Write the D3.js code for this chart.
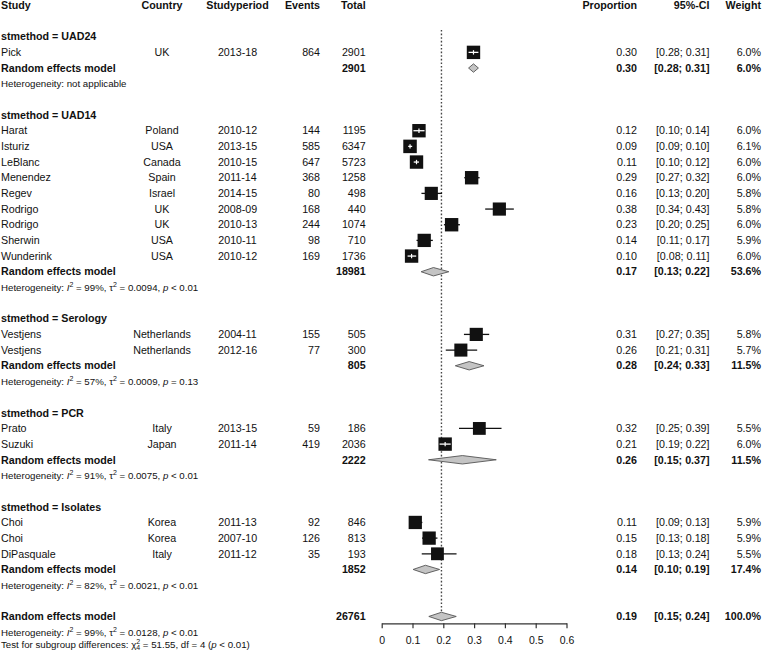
<!DOCTYPE html>
<html lang="en">
<head>
<meta charset="utf-8">
<title>Forest plot by stmethod</title>
<style>
  body { margin: 0; background: #fff; }
  text { font-family: Arial, "Liberation Sans", sans-serif; fill: #111; }
  .cell { font-size: 10.7px; }
  .bold { font-weight: bold; }
  .het { font-size: 9.7px; }
  .tick text { font-size: 10.5px; }
</style>
</head>
<body>
<div id="forest"></div>
<script src="https://cdn.jsdelivr.net/npm/d3@7"></script>
<script>
// ---- data ----
var groups = ["UAD24", "UAD14", "Serology", "PCR", "Isolates"];

var studyGroup   = [0, 1, 1, 1, 1, 1, 1, 1, 1, 1, 2, 2, 3, 3, 4, 4, 4];
var studyNames   = ["Pick", "Harat", "Isturiz", "LeBlanc", "Menendez", "Regev", "Rodrigo", "Rodrigo", "Sherwin", "Wunderink",
                    "Vestjens", "Vestjens", "Prato", "Suzuki", "Choi", "Choi", "DiPasquale"];
var studyCountry = ["UK", "Poland", "USA", "Canada", "Spain", "Israel", "UK", "UK", "USA", "USA",
                    "Netherlands", "Netherlands", "Italy", "Japan", "Korea", "Korea", "Italy"];
var studyPeriod  = ["2013-18", "2010-12", "2013-15", "2010-15", "2011-14", "2014-15", "2008-09", "2010-13", "2010-11", "2010-12",
                    "2004-11", "2012-16", "2013-15", "2011-14", "2011-13", "2007-10", "2011-12"];
var studyEvents  = [864, 144, 585, 647, 368, 80, 168, 244, 98, 169, 155, 77, 59, 419, 92, 126, 35];
var studyTotal   = [2901, 1195, 6347, 5723, 1258, 498, 440, 1074, 710, 1736, 505, 300, 186, 2036, 846, 813, 193];
var studyProp    = [0.298, 0.121, 0.092, 0.113, 0.292, 0.161, 0.382, 0.227, 0.138, 0.097, 0.307, 0.257, 0.317, 0.206, 0.109, 0.154, 0.181];
var studyLower   = [0.282, 0.103, 0.086, 0.104, 0.268, 0.129, 0.336, 0.202, 0.113, 0.084, 0.267, 0.208, 0.251, 0.188, 0.089, 0.131, 0.130];
var studyUpper   = [0.314, 0.139, 0.099, 0.121, 0.318, 0.196, 0.429, 0.254, 0.166, 0.112, 0.349, 0.310, 0.389, 0.224, 0.132, 0.181, 0.243];
var studyWeight  = [6.0, 6.0, 6.1, 6.0, 6.0, 5.8, 5.8, 6.0, 5.9, 6.0, 5.8, 5.7, 5.5, 6.0, 5.9, 5.9, 5.5];

var poolTotal  = [2901, 18981, 805, 2222, 1852];
var poolProp   = [0.298, 0.168, 0.284, 0.262, 0.142];
var poolLower  = [0.282, 0.128, 0.239, 0.152, 0.102];
var poolUpper  = [0.314, 0.218, 0.332, 0.372, 0.188];
var poolWeight = [6.0, 53.6, 11.5, 11.5, 17.4];
var hetI2      = [null, "99%", "57%", "91%", "82%"];
var hetTau2    = [null, "0.0094", "0.0009", "0.0075", "0.0021"];
var hetP       = [null, "< 0.01", "= 0.13", "< 0.01", "< 0.01"];

var overallTotal = 26761, overallProp = 0.194, overallLower = 0.153, overallUpper = 0.242, overallWeight = 100.0;
var overallI2 = "99%", overallTau2 = "0.0128", overallP = "< 0.01";
var testChi = "51.55", testDf = 4, testP = "< 0.01";

var xTicks = [0, 0.1, 0.2, 0.3, 0.4, 0.5, 0.6];

// ---- layout ----
var W = 762, H = 651;
var svg = d3.select("#forest").append("svg").attr("width", W).attr("height", H);

var x = d3.scaleLinear().domain([0, 0.6]).range([381.7, 566.5]);
var y = d3.scaleLinear().domain([0, 39]).range([36.7, 647.8]);

var col = {study: 1, country: 162, period: 237.5, events: 320, total: 365.7, prop: 637, ci: 709.5, weight: 761};

// build row list
var rows = [];
var r = 0;
groups.forEach(function(g, gi) {
  rows.push({type: "label", row: r++, text: "stmethod = " + g});
  studyNames.forEach(function(n, i) {
    if (studyGroup[i] !== gi) return;
    rows.push({type: "study", row: r++, name: n, country: studyCountry[i], period: studyPeriod[i],
               events: studyEvents[i], total: studyTotal[i], est: studyProp[i], lo: studyLower[i],
               hi: studyUpper[i], w: studyWeight[i]});
  });
  rows.push({type: "pool", row: r++, total: poolTotal[gi], est: poolProp[gi], lo: poolLower[gi], hi: poolUpper[gi], w: poolWeight[gi]});
  rows.push({type: "het", row: r++, i2: hetI2[gi], tau2: hetTau2[gi], p: hetP[gi]});
  r++;
});
rows.push({type: "pool", row: r++, total: overallTotal, est: overallProp, lo: overallLower, hi: overallUpper, w: overallWeight});
rows.push({type: "het", row: r++, i2: overallI2, tau2: overallTau2, p: overallP});
rows.push({type: "test", row: r++});
var lastPoolRow = r - 3;

function txt(cls, xx, yy, anchor, s) {
  return svg.append("text").attr("class", cls).attr("x", xx).attr("y", yy)
    .attr("dy", "0.35em").attr("text-anchor", anchor).text(s);
}
function ci(lo, hi) { return "[" + lo.toFixed(2) + "; " + hi.toFixed(2) + "]"; }

// header
var hy = y(-2);
txt("cell bold", col.study, hy, "start", "Study");
txt("cell bold", col.country, hy, "middle", "Country");
txt("cell bold", col.period, hy, "middle", "Studyperiod");
txt("cell bold", col.events, hy, "end", "Events");
txt("cell bold", col.total, hy, "end", "Total");
txt("cell bold", col.prop, hy, "end", "Proportion");
txt("cell bold", col.ci, hy, "end", "95%-CI");
txt("cell bold", col.weight, hy, "end", "Weight");

// reference line at overall estimate
svg.append("line")
  .attr("x1", x(overallProp)).attr("x2", x(overallProp))
  .attr("y1", 30).attr("y2", y(lastPoolRow) - 4)
  .attr("stroke", "#444").attr("stroke-width", 1.4).attr("stroke-dasharray", "1.6,2");

rows.forEach(function(d) {
  var yy = y(d.row);
  if (d.type === "label") {
    txt("cell bold", col.study, yy, "start", d.text);
  } else if (d.type === "study") {
    txt("cell", col.study, yy, "start", d.name);
    txt("cell", col.country, yy, "middle", d.country);
    txt("cell", col.period, yy, "middle", d.period);
    txt("cell", col.events, yy, "end", d.events);
    txt("cell", col.total, yy, "end", d.total);
    txt("cell", col.prop, yy, "end", d.est.toFixed(2));
    txt("cell", col.ci, yy, "end", ci(d.lo, d.hi));
    txt("cell", col.weight, yy, "end", d.w.toFixed(1) + "%");

    var side = 13.5 * Math.sqrt(d.w / 6.1);
    var cx = x(d.est);
    var inside = x(d.lo) >= cx - side / 2 && x(d.hi) <= cx + side / 2;
    if (!inside) {
      svg.append("line").attr("x1", x(d.lo)).attr("x2", x(d.hi)).attr("y1", yy).attr("y2", yy)
        .attr("stroke", "#111").attr("stroke-width", 1.3);
    }
    svg.append("rect").attr("x", cx - side / 2).attr("y", yy - side / 2)
      .attr("width", side).attr("height", side).attr("fill", "#111");
    if (inside) {
      svg.append("line").attr("x1", x(d.lo)).attr("x2", x(d.hi)).attr("y1", yy).attr("y2", yy)
        .attr("stroke", "#fff").attr("stroke-width", 1.3);
      svg.append("line").attr("x1", cx).attr("x2", cx).attr("y1", yy - 2.2).attr("y2", yy + 2.2)
        .attr("stroke", "#fff").attr("stroke-width", 1.2);
    }
  } else if (d.type === "pool") {
    txt("cell bold", col.study, yy, "start", "Random effects model");
    txt("cell bold", col.total, yy, "end", d.total);
    txt("cell bold", col.prop, yy, "end", d.est.toFixed(2));
    txt("cell bold", col.ci, yy, "end", ci(d.lo, d.hi));
    txt("cell bold", col.weight, yy, "end", d.w.toFixed(1) + "%");
    var pts = [[x(d.lo), yy], [x(d.est), yy - 4.2], [x(d.hi), yy], [x(d.est), yy + 4.2]];
    svg.append("polygon").attr("points", pts.map(function(p) { return p.join(","); }).join(" "))
      .attr("fill", "#c4c4c4").attr("stroke", "#555").attr("stroke-width", 0.9);
  } else if (d.type === "het") {
    var t = svg.append("text").attr("class", "het").attr("x", col.study).attr("y", yy).attr("dy", "0.35em");
    if (d.i2 === null) {
      t.text("Heterogeneity: not applicable");
    } else {
      t.append("tspan").text("Heterogeneity: ");
      t.append("tspan").attr("font-style", "italic").text("I");
      t.append("tspan").attr("dy", -4).attr("font-size", "7px").text("2");
      t.append("tspan").attr("dy", 4).text(" = " + d.i2 + ", \u03c4");
      t.append("tspan").attr("dy", -4).attr("font-size", "7px").text("2");
      t.append("tspan").attr("dy", 4).text(" = " + d.tau2 + ", ");
      t.append("tspan").attr("font-style", "italic").text("p");
      t.append("tspan").text(" " + d.p);
    }
  } else if (d.type === "test") {
    // sits a touch higher than the row grid so the subscript stays in frame
    var tt = svg.append("text").attr("class", "het").attr("x", col.study).attr("y", yy - 3.5).attr("dy", "0.35em");
    tt.append("tspan").text("Test for subgroup differences: \u03c7");
    tt.append("tspan").attr("dy", -3.5).attr("font-size", "7px").text("2");
    tt.append("tspan").attr("dx", -3.9).attr("dy", 6).attr("font-size", "7px").text(testDf);
    tt.append("tspan").attr("dy", -2.5).text(" = " + testChi + ", df = " + testDf + " (");
    tt.append("tspan").attr("font-style", "italic").text("p");
    tt.append("tspan").text(" " + testP + ")");
  }
});

// axis
var axisY = 623.3;
var axis = d3.axisBottom(x).tickValues(xTicks).tickFormat(function(v) { return v === 0 ? "0" : d3.format(".1f")(v); })
  .tickSizeInner(5).tickSizeOuter(0).tickPadding(8);
var ag = svg.append("g").attr("transform", "translate(0," + axisY + ")").call(axis);
ag.select(".domain").attr("stroke", "#333").attr("stroke-width", 1.2);
ag.selectAll(".tick line").attr("stroke", "#333").attr("stroke-width", 1.2);
ag.selectAll(".tick text").attr("font-family", "Arial, 'Liberation Sans', sans-serif").attr("fill", "#111");
</script>
</body>
</html>
